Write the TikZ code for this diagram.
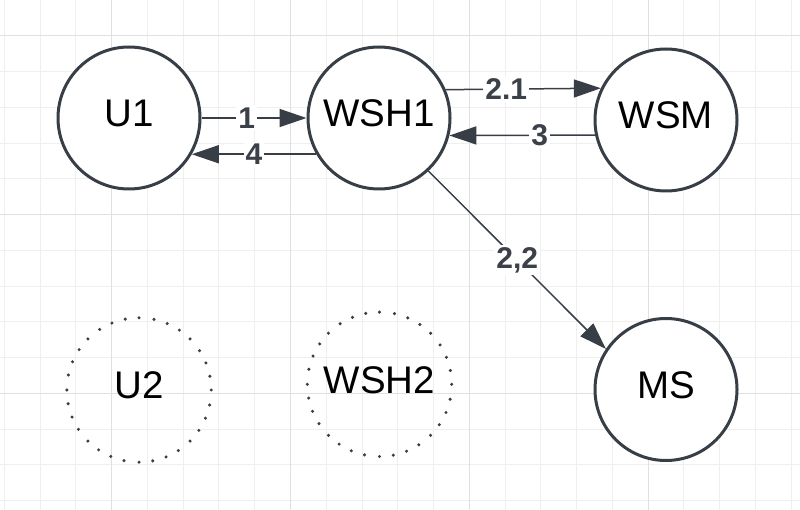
\documentclass[tikz,border=0pt]{standalone}
\usepackage{fontspec}
\setmainfont{Liberation Sans}
\usetikzlibrary{arrows.meta}
\definecolor{ink}{HTML}{383E46}
\definecolor{lbl}{HTML}{3C4048}
\definecolor{gminor}{HTML}{EFEFEF}
\definecolor{gmajor}{HTML}{E0E0E0}
\tikzset{
  state/.style={circle, draw=ink, line width=3pt, minimum size=142pt, inner sep=0pt,
    font=\fontsize{38.5}{46}\selectfont, text depth=9pt, fill=white},
  ghost/.style={circle, draw=none, minimum size=144pt, inner sep=0pt,
    font=\fontsize{38.5}{46}\selectfont, text depth=9pt},
  dotmark/.style={fill=ink},
  conn/.style={draw=ink, line width=1.5pt, -{Triangle[length=27pt,width=18pt]}},
  elabel/.style={fill=white, text=lbl, inner sep=2pt, font=\fontsize{30}{36}\selectfont\bfseries}
}
\begin{document}
\begin{tikzpicture}[x=1pt,y=-1pt]
\useasboundingbox (0,0) rectangle (800,510);
\fill[white] (0,0) rectangle (800,510);
% grid
\foreach \i in {0,...,22}{
  \draw[gminor, line width=1pt] ({4.4+35.76*\i},0) -- ({4.4+35.76*\i},510);
}
\foreach \j in {0,...,14}{
  \draw[gminor, line width=1pt] (0,{35.76*\j}) -- (800,{35.76*\j});
}
\foreach \i in {3,8,13,18}{
  \draw[gmajor, line width=1pt] ({4.4+35.76*\i},0) -- ({4.4+35.76*\i},510);
}
\foreach \j in {1,6,11}{
  \draw[gmajor, line width=1pt] (0,{35.76*\j}) -- (800,{35.76*\j});
}
% nodes
\node[state] (u1) at (129,118) {U1};
\node[state] (w1) at (379,118) {WSH1};
\node[state] (wsm) at (666,120) {WSM};
\node[state] (ms) at (666,389.5) {MS};
\node[ghost] (u2) at (139,390) {U2};
\node[ghost] (w2) at (379.5,384.3) {WSH2};
% dotted outlines
\foreach \n in {u2,w2}{
  \foreach \k in {0,...,31}{
    \fill[dotmark] (\n.{\k*11.25}) circle[radius=1.7pt];
  }
}
% connectors
\draw[conn] (u1) -- node[elabel, pos=0.43] (l1) {1} (w1);
\draw[conn] (w1.210.7) -- node[elabel, pos=0.5] (l4) {4} (u1.-30.7);
\draw[conn] (w1.23.6) -- node[elabel, pos=0.39] (l21) {2.1} (wsm.154.7);
\draw[conn] (wsm.192.5) -- node[elabel, pos=0.38] (l3) {3} (w1.-14.1);
\draw[conn] (w1.-47) -- node[elabel, pos=0.5] (l22) {2,2} (ms.146);
\end{tikzpicture}
\end{document}
